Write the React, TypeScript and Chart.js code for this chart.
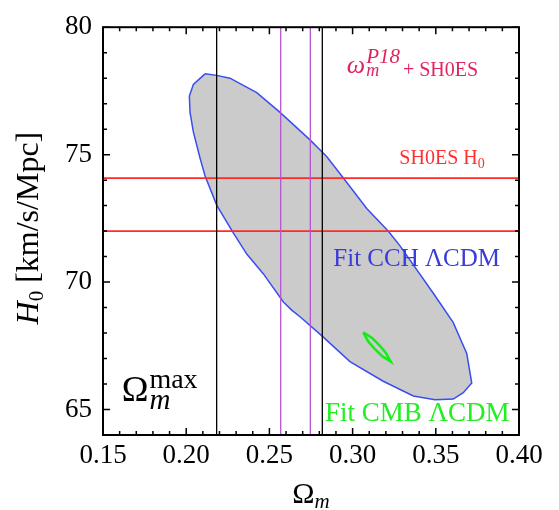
import React, { useEffect, useRef } from "react";
import { Chart, registerables } from "chart.js";
Chart.register(...registerables);

// ---- axis ranges / ticks ----
const xRange = [0.15, 0.4];
const yRange = [64, 80];
const xTickValues = [0.15, 0.2, 0.25, 0.3, 0.35, 0.4];
const yTickValues = [65, 70, 75, 80];

// ---- CCH LambdaCDM contour (closed) ----
const cchOmega = [
  0.2113, 0.2183, 0.2263, 0.2424, 0.2564, 0.2744, 0.2844, 0.2934, 0.3085, 0.3215,
  0.3285, 0.3485, 0.3525, 0.3605, 0.3686, 0.3716, 0.3665, 0.3605, 0.3495, 0.3365,
  0.3184, 0.2984, 0.2819, 0.2684, 0.2634, 0.2584, 0.2463, 0.2364, 0.2283, 0.2183,
  0.2113, 0.2083, 0.2043, 0.2023, 0.2019, 0.2043, 0.2113,
];
const cchH0 = [
  78.17, 78.11, 78.0, 77.43, 76.66, 75.58, 74.93, 74.17, 72.89, 71.99,
  71.42, 69.56, 69.18, 68.41, 67.2, 66.04, 65.66, 65.41, 65.38, 65.53,
  66.11, 66.88, 67.87, 68.64, 68.9, 69.22, 70.33, 71.1, 71.93, 73.02,
  74.17, 74.87, 75.89, 76.66, 77.3, 77.75, 78.17,
];

// ---- CMB LambdaCDM contour (closed) ----
const cmbOmega = [0.3064, 0.3117, 0.316, 0.3199, 0.3229, 0.3176, 0.3133, 0.3094, 0.3064];
const cmbH0 = [68.03, 67.81, 67.53, 67.23, 66.88, 67.1, 67.38, 67.67, 68.03];

// ---- bands ----
const omegaMaxBounds = [0.2183, 0.2818];
const omegaP18Bounds = [0.2568, 0.2746];
const shoesH0Bounds = [72.0, 74.08];

const SERIF = '"Liberation Serif", "Times New Roman", serif';

type Seg = { t: string; font: string; dy?: number; dx?: number; sameX?: boolean };

function drawRich(ctx: CanvasRenderingContext2D, x: number, y: number, segs: Seg[], color: string, draw = true): number {
  let cx = x;
  let prevStart = x;
  ctx.fillStyle = color;
  ctx.textBaseline = "alphabetic";
  ctx.textAlign = "left";
  for (const s of segs) {
    ctx.font = s.font;
    const w = ctx.measureText(s.t).width;
    const start = (s.sameX ? prevStart : cx) + (s.dx || 0);
    if (draw) ctx.fillText(s.t, start, y + (s.dy || 0));
    const end = start + w;
    cx = s.sameX ? Math.max(cx, end) : end;
    prevStart = start;
  }
  return cx - x;
}

const decorPlugin = {
  id: "decor",
  afterDraw(chart: any) {
    const ctx: CanvasRenderingContext2D = chart.ctx;
    const { left, right, top, bottom } = chart.chartArea;
    const xs = chart.scales.x;
    const ys = chart.scales.y;
    ctx.save();
    // frame
    ctx.strokeStyle = "#000";
    ctx.lineWidth = 2;
    ctx.strokeRect(left, top, right - left, bottom - top);
    // ticks (inward, on all four sides)
    ctx.lineWidth = 1.5;
    ctx.beginPath();
    for (let i = 0; i <= 25; i++) {
      const v = 0.15 + i * 0.01;
      const p = xs.getPixelForValue(v);
      const major = i % 5 === 0;
      const len = major ? 7 : 4;
      ctx.moveTo(p, bottom);
      ctx.lineTo(p, bottom - len);
      ctx.moveTo(p, top);
      ctx.lineTo(p, top + len);
    }
    for (let v = 64; v <= 80; v++) {
      const p = ys.getPixelForValue(v);
      const major = v % 5 === 0;
      const len = major ? 7 : 4;
      ctx.moveTo(left, p);
      ctx.lineTo(left + len, p);
      ctx.moveTo(right, p);
      ctx.lineTo(right - len, p);
    }
    ctx.stroke();

    const X = (v: number) => xs.getPixelForValue(v);
    const Y = (v: number) => ys.getPixelForValue(v);

    // annotations
    drawRich(ctx, X(0.2965), Y(78.2), [
      { t: "ω", font: `italic 26px ${SERIF}` },
      { t: "m", font: `italic 18px ${SERIF}`, dy: 3, dx: 1 },
      { t: "P18", font: `italic 21px ${SERIF}`, dy: -10, sameX: true },
      { t: "+", font: `20px ${SERIF}`, dy: 3, dx: 3 },
      { t: "SH0ES", font: `20px ${SERIF}`, dy: 3, dx: 5 },
    ], "#e0245e");

    drawRich(ctx, X(0.3281), Y(74.62), [
      { t: "SH0ES H", font: `20px ${SERIF}` },
      { t: "0", font: `14px ${SERIF}`, dy: 4 },
    ], "#ff3030");

    drawRich(ctx, X(0.2884), Y(70.65), [
      { t: "Fit CCH ΛCDM", font: `25px ${SERIF}` },
    ], "#3a3ad8");

    drawRich(ctx, X(0.2834), Y(64.55), [
      { t: "Fit CMB ΛCDM", font: `27px ${SERIF}` },
    ], "#22ee22");

    drawRich(ctx, X(0.1612), Y(65.34), [
      { t: "Ω", font: `36px ${SERIF}` },
      { t: "max", font: `28px ${SERIF}`, dy: -13, dx: 1 },
      { t: "m", font: `italic 29px ${SERIF}`, dy: 8, sameX: true },
    ], "#000");

    // x title
    const xt: Seg[] = [
      { t: "Ω", font: `30px ${SERIF}` },
      { t: "m", font: `italic 21px ${SERIF}`, dy: 5 },
    ];
    const xw = drawRich(ctx, 0, 0, xt, "#000", false);
    drawRich(ctx, (left + right) / 2 - xw / 2, 503, xt, "#000");

    // y title (rotated)
    const yt: Seg[] = [
      { t: "H", font: `italic 32px ${SERIF}` },
      { t: "0", font: `21px ${SERIF}`, dy: 5 },
      { t: " [km/s/Mpc]", font: `32px ${SERIF}` },
    ];
    const yw = drawRich(ctx, 0, 0, yt, "#000", false);
    ctx.translate(38, (top + bottom) / 2 - 3);
    ctx.rotate(-Math.PI / 2);
    drawRich(ctx, -yw / 2, 0, yt, "#000");
    ctx.restore();
  },
};

function pts(xsArr: number[], ysArr: number[]) {
  return xsArr.map((x, i) => ({ x, y: ysArr[i] }));
}

export default function App() {
  const ref = useRef<HTMLCanvasElement>(null);
  useEffect(() => {
    document.body.style.margin = "0";
    const canvas = ref.current!;
    const lineDs = (data: { x: number; y: number }[], color: string, width: number) => ({
      type: "line" as const,
      data,
      borderColor: color,
      borderWidth: width,
      pointRadius: 0,
      fill: false,
      tension: 0,
    });
    const datasets: any[] = [
      lineDs(pts(cmbOmega, cmbH0), "#11ee11", 2.5),
      ...omegaMaxBounds.map((v) => lineDs(pts([v, v], yRange), "#000000", 1.3)),
      ...omegaP18Bounds.map((v) => lineDs(pts([v, v], yRange), "#b455d6", 1.3)),
      ...shoesH0Bounds.map((v) => lineDs(pts(xRange, [v, v]), "#ff2a2a", 1.6)),
      {
        type: "line",
        data: pts(cchOmega, cchH0),
        borderColor: "#3a4ef0",
        borderWidth: 1.5,
        backgroundColor: "#cbcbcb",
        pointRadius: 0,
        fill: "shape",
        tension: 0,
      },
    ];
    const chart = new Chart(canvas, {
      type: "scatter",
      data: { datasets },
      options: {
        animation: false,
        responsive: false,
        maintainAspectRatio: false,
        layout: { padding: { top: 18, right: 40, left: 0, bottom: 0 } },
        plugins: { legend: { display: false }, tooltip: { enabled: false } },
        scales: {
          x: {
            type: "linear",
            min: xRange[0],
            max: xRange[1],
            grid: { display: false, drawTicks: false },
            border: { display: false },
            afterBuildTicks: (s: any) => {
              s.ticks = xTickValues.map((value) => ({ value }));
            },
            afterFit: (s: any) => {
              s.height = 75;
            },
            ticks: {
              padding: 5,
              color: "#000",
              font: { family: SERIF, size: 27 },
              callback: (v: any) => Number(v).toFixed(2),
            },
          },
          y: {
            type: "linear",
            min: yRange[0],
            max: yRange[1],
            grid: { display: false, drawTicks: false },
            border: { display: false },
            afterBuildTicks: (s: any) => {
              s.ticks = yTickValues.map((value) => ({ value }));
            },
            afterFit: (s: any) => {
              s.width = 103;
            },
            ticks: {
              padding: 11,
              color: "#000",
              font: { family: SERIF, size: 27 },
              callback: (v: any) => String(v),
            },
          },
        },
      },
      plugins: [decorPlugin],
    });
    return () => chart.destroy();
  }, []);
  return <canvas ref={ref} width={559} height={510} style={{ display: "block" }} />;
}
